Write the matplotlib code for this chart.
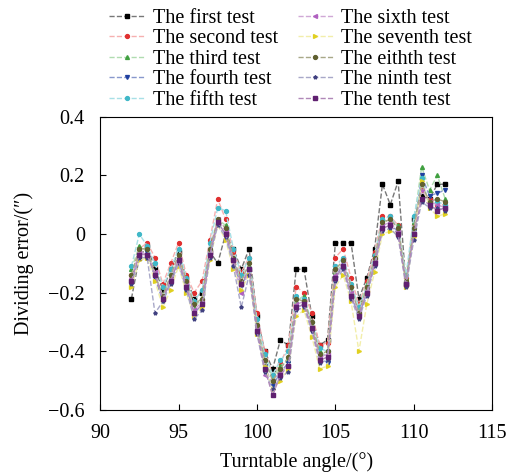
import numpy as np
import matplotlib.pyplot as plt

plt.rcParams['font.family'] = ['Liberation Serif', 'DejaVu Serif']
plt.rcParams['font.size'] = 14.5

# 转台角度
angle = np.arange(92.0, 112.01, 0.5)

# 十次测试的分度误差
test1 = [-0.22, -0.08, -0.04, -0.12, -0.19, -0.12, -0.06, -0.15, -0.22, -0.20, -0.06, -0.10, 0.00, -0.05,
         -0.12, -0.05, -0.28, -0.40, -0.46, -0.36, -0.38, -0.12, -0.12, -0.28, -0.38, -0.36, -0.03, -0.03,
         -0.03, -0.22, -0.15, -0.05, 0.17, 0.10, 0.18, -0.17, 0.05, 0.13, 0.12, 0.17, 0.17]
test2 = [-0.14, -0.05, -0.03, -0.08, -0.17, -0.10, -0.03, -0.14, -0.20, -0.16, -0.02, 0.12, 0.05, -0.06,
         -0.13, -0.08, -0.27, -0.40, -0.48, -0.44, -0.38, -0.18, -0.20, -0.27, -0.38, -0.37, -0.08, -0.05,
         -0.15, -0.24, -0.16, -0.06, 0.06, 0.06, 0.03, -0.15, 0.03, 0.15, 0.12, 0.10, 0.10]
test3 = [-0.12, -0.04, -0.06, -0.14, -0.21, -0.15, -0.08, -0.17, -0.25, -0.22, -0.06, 0.05, 0.03, -0.09,
         -0.16, -0.11, -0.31, -0.43, -0.49, -0.45, -0.43, -0.23, -0.21, -0.31, -0.40, -0.42, -0.13, -0.10,
         -0.19, -0.25, -0.17, -0.09, 0.05, 0.04, 0.03, -0.15, 0.04, 0.23, 0.15, 0.20, 0.12]
test4 = [-0.17, -0.07, -0.06, -0.15, -0.23, -0.16, -0.09, -0.18, -0.27, -0.24, -0.07, 0.04, 0.00, -0.10,
         -0.18, -0.12, -0.33, -0.45, -0.52, -0.47, -0.44, -0.25, -0.24, -0.33, -0.42, -0.44, -0.15, -0.10,
         -0.21, -0.28, -0.20, -0.10, 0.02, 0.03, 0.01, -0.17, 0.01, 0.20, 0.13, 0.14, 0.15]
test5 = [-0.11, 0.00, -0.04, -0.10, -0.18, -0.12, -0.05, -0.15, -0.23, -0.19, -0.03, 0.09, 0.08, -0.05,
         -0.14, -0.08, -0.29, -0.41, -0.48, -0.43, -0.40, -0.21, -0.22, -0.30, -0.39, -0.40, -0.11, -0.08,
         -0.17, -0.25, -0.18, -0.07, 0.05, 0.06, 0.02, -0.14, 0.06, 0.19, 0.10, 0.11, 0.10]
test6 = [-0.15, -0.06, -0.07, -0.13, -0.22, -0.15, -0.08, -0.17, -0.26, -0.23, -0.06, 0.05, 0.01, -0.10,
         -0.20, -0.12, -0.32, -0.48, -0.50, -0.47, -0.45, -0.24, -0.23, -0.32, -0.42, -0.41, -0.14, -0.09,
         -0.20, -0.27, -0.19, -0.09, 0.03, 0.04, 0.01, -0.17, 0.00, 0.15, 0.11, 0.10, 0.09]
test7 = [-0.18, -0.09, -0.08, -0.16, -0.25, -0.19, -0.11, -0.20, -0.28, -0.25, -0.09, 0.03, -0.02, -0.12,
         -0.19, -0.14, -0.34, -0.45, -0.53, -0.50, -0.46, -0.28, -0.26, -0.35, -0.46, -0.45, -0.18, -0.14,
         -0.23, -0.40, -0.24, -0.13, 0.00, 0.01, 0.00, -0.18, -0.01, 0.18, 0.09, 0.06, 0.07]
test8 = [-0.14, -0.05, -0.05, -0.14, -0.21, -0.14, -0.07, -0.16, -0.24, -0.22, -0.05, 0.05, 0.02, -0.08,
         -0.16, -0.10, -0.31, -0.43, -0.50, -0.46, -0.42, -0.22, -0.23, -0.30, -0.41, -0.40, -0.12, -0.09,
         -0.18, -0.27, -0.18, -0.08, 0.04, 0.05, 0.02, -0.16, 0.02, 0.17, 0.11, 0.12, 0.11]
test9 = [-0.17, -0.08, -0.08, -0.27, -0.23, -0.17, -0.10, -0.19, -0.29, -0.26, -0.08, 0.03, -0.01, -0.11,
         -0.25, -0.14, -0.34, -0.47, -0.53, -0.49, -0.47, -0.26, -0.25, -0.33, -0.44, -0.43, -0.16, -0.12,
         -0.22, -0.29, -0.21, -0.11, 0.01, 0.02, -0.01, -0.18, -0.02, 0.11, 0.09, 0.09, 0.08]
test10 = [-0.16, -0.07, -0.07, -0.14, -0.22, -0.16, -0.09, -0.18, -0.27, -0.24, -0.07, 0.04, 0.00, -0.09,
          -0.17, -0.12, -0.33, -0.46, -0.55, -0.48, -0.45, -0.25, -0.24, -0.32, -0.43, -0.42, -0.15, -0.11,
          -0.21, -0.28, -0.20, -0.10, 0.02, 0.03, 0.00, -0.17, 0.00, 0.12, 0.10, 0.08, 0.09]

labels = ['The first test', 'The second test', 'The third test', 'The fourth test', 'The fifth test',
          'The sixth test', 'The seventh test', 'The eithth test', 'The ninth test', 'The tenth test']
series = [test1, test2, test3, test4, test5, test6, test7, test8, test9, test10]

# 线色（浅）和标记色（深）
line_colors = ['#777777', '#f6b0b0', '#b0dcb0', '#8898cc', '#a8e0e6',
               '#d0a8d6', '#f2eeaa', '#a8a888', '#a8a8c8', '#b088b8']
marker_colors = ['#000000', '#e03030', '#40a040', '#2040a0', '#40b8c8',
                 '#b060c0', '#e0d020', '#606030', '#404080', '#602070']
markers = ['s', 'o', '^', 'v', 'o', '<', '>', 'o', '*', 's']

fig = plt.figure(figsize=(5.08, 4.75), dpi=100)
ax = fig.add_axes([0.197, 0.137, 0.772, 0.617])

for y, lab, lc, mc, mk in zip(series, labels, line_colors, marker_colors, markers):
    ax.plot(angle, y, linestyle='--', linewidth=1.0, color=lc, marker=mk, markersize=2.8,
            markerfacecolor=mc, markeredgecolor=mc, label=lab)

ax.set_xlim(90, 115)
ax.set_ylim(-0.6, 0.4)
ax.set_xticks([90, 95, 100, 105, 110, 115])
ax.set_yticks([-0.6, -0.4, -0.2, 0, 0.2, 0.4])
ax.set_yticklabels(['\u22120.6', '\u22120.4', '\u22120.2', '0', '0.2', '0.4'])
ax.tick_params(direction='in', top=False, right=False, length=4)
ax.tick_params(axis='x', pad=10)
ax.tick_params(axis='y', pad=11)
ax.set_xlabel('Turntable angle/(°)', labelpad=7)
ax.set_ylabel('Dividing error/(\u2033)', labelpad=10)

fig.legend(loc='upper center', bbox_to_anchor=(0.572, 1.02), ncol=2, frameon=False,
           handlelength=1.75, handletextpad=0.4, columnspacing=1.0, labelspacing=0.07,
           fontsize=14.5)

plt.savefig('out.png', dpi=100)
